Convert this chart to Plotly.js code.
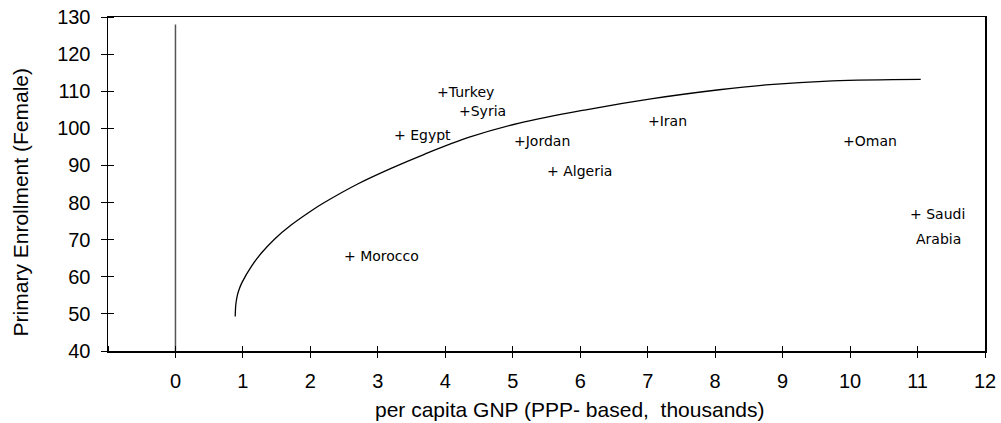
<!DOCTYPE html>
<html><head><meta charset="utf-8">
<script src="https://cdn.plot.ly/plotly-3.0.1.min.js"></script>
<style>html,body{margin:0;padding:0;background:#fff}#chart{width:1001px;height:423px}</style>
</head><body><div id="chart"></div>
<script>
// Data
const countries = ['Morocco','Egypt','Turkey','Syria','Jordan','Algeria','Iran','Oman','Saudi Arabia'];
const labelLines = [['+ Morocco'],['+ Egypt'],['+Turkey'],['+Syria'],['+Jordan'],['+ Algeria'],['+Iran'],['+Oman'],['+ Saudi','Arabia']];
const gnp = [2.59, 3.33, 3.97, 4.29, 5.10, 5.60, 7.09, 9.99, 10.97];
const enrollment = [65.6, 98.2, 109.7, 104.7, 96.7, 88.5, 102.0, 96.7, 76.8];
const trendX = [0.886,0.895,0.919,0.947,0.993,1.126,1.274,1.471,1.719,2.015,2.207,2.701,3.196,3.689,4.356,5.096,6.084,7.071,8.059,8.751,9.738,11.047];
const trendY = [49.3,52.6,55.1,56.8,58.7,62.8,66.4,70.2,74.0,77.8,80.0,85.0,89.2,93.0,97.6,101.4,105.0,108.0,110.4,111.7,112.8,113.2];
const zeroLineX = [0, 0];
const zeroLineY = [40, 128];
const xTickVals = [-1,0,1,2,3,4,5,6,7,8,9,10,11,12];
const xTickText = ['','0','1','2','3','4','5','6','7','8','9','10','11','12'];
const yTickVals = [40,50,60,70,80,90,100,110,120,130];
const xTitle = 'per capita GNP (PPP- based,  thousands)';
const yTitle = 'Primary Enrollment (Female)';

const xRange = [-1, 12], yRange = [40, 130];
const tickFont = {family: 'Liberation Sans, Arial, sans-serif', size: 20, color: '#000'};
const titleFont = {family: 'Liberation Sans, Arial, sans-serif', size: 21, color: '#000'};
const labelFont = {family: 'DejaVu Sans, Verdana, sans-serif', size: 14, color: '#000'};

const traces = [
  {x: zeroLineX, y: zeroLineY, mode: 'lines', line: {color: '#555', width: 1.5}, hoverinfo: 'skip'},
  {x: trendX, y: trendY, mode: 'lines', line: {color: '#000', width: 1.3, shape: 'spline', smoothing: 1}, hoverinfo: 'skip'}
];

const annotations = [];
gnp.forEach((gx, i) => {
  labelLines[i].forEach((t, j) => {
    annotations.push({x: gx, y: enrollment[i], xref: 'x', yref: 'y', text: t, showarrow: false,
      xanchor: 'left', yanchor: 'middle', xshift: j === 0 ? -8 : -2, yshift: -25 * j, font: labelFont});
  });
});
annotations.push({xref: 'paper', yref: 'paper', x: -0.1003, y: 0.445, text: yTitle, textangle: -90,
  showarrow: false, xanchor: 'center', yanchor: 'middle', font: titleFont});
annotations.push({xref: 'paper', yref: 'paper', x: 0.5257, y: -0.1756, text: xTitle,
  showarrow: false, xanchor: 'center', yanchor: 'middle', font: titleFont});

const baseAxis = {showgrid: false, zeroline: false, fixedrange: true};
const layout = {
  width: 1001, height: 423,
  margin: {l: 108, r: 16, t: 17, b: 72, pad: 0},
  paper_bgcolor: '#fff', plot_bgcolor: '#fff',
  showlegend: false,
  xaxis: Object.assign({}, baseAxis, {range: xRange, tickmode: 'array', tickvals: xTickVals, ticktext: xTickText,
    ticks: 'outside', ticklen: 5, tickwidth: 1, tickcolor: '#000', showline: true, linecolor: '#000', linewidth: 1.5,
    mirror: true, tickfont: tickFont, ticklabelstandoff: 6,
    minor: {ticks: 'inside', ticklen: 5, tickwidth: 1, tickcolor: '#000', tickmode: 'array', tickvals: xTickVals, showgrid: false}}),
  yaxis: Object.assign({}, baseAxis, {range: yRange, tickmode: 'array', tickvals: yTickVals,
    ticks: 'outside', ticklen: 6, tickwidth: 1, tickcolor: '#000', showline: true, linecolor: '#000', linewidth: 1.5,
    mirror: true, tickfont: tickFont, ticklabelstandoff: 6,
    minor: {ticks: 'inside', ticklen: 6, tickwidth: 1, tickcolor: '#000', tickmode: 'array', tickvals: yTickVals, showgrid: false}}),
  annotations: annotations
};
Plotly.newPlot('chart', traces, layout, {staticPlot: true, displayModeBar: false});
</script></body></html>
